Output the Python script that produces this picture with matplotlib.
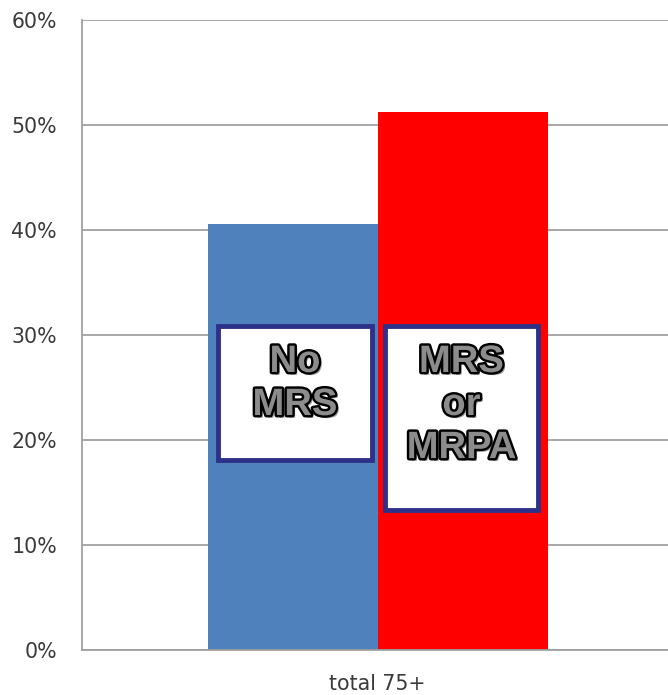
import matplotlib
matplotlib.use("Agg")
import matplotlib.pyplot as plt
import matplotlib.patheffects as pe
from matplotlib.patches import Rectangle
from matplotlib.ticker import FuncFormatter

# Share of people aged 75+ (percent)
category = "total 75+"
series_names = [["No", "MRS"], ["MRS", "or", "MRPA"]]
values = [40.6, 51.2]
colors = ["#4F81BD", "#FF0000"]
yticks = [0, 10, 20, 30, 40, 50, 60]

fig = plt.figure(figsize=(6.68, 6.95), dpi=100)
ax = fig.add_axes([82 / 668, 45 / 695, 586 / 668, 630 / 695])

bar_w = 1.0
offsets = [-0.5, 0.5]
for off, v, c in zip(offsets, values, colors):
    ax.bar(off + 0.006, v, width=bar_w, color=c, align="center", zorder=2)

ax.set_xlim(-1.735, 1.712)
ax.set_ylim(0, 60)
ax.set_yticks(yticks)
ax.yaxis.set_major_formatter(FuncFormatter(lambda v, p: f"{v:.0f}%"))
ax.set_xticks([0])
ax.set_xticklabels([category])
ax.tick_params(axis="both", length=0, labelsize=14.8, colors="#3A3A3A")
ax.tick_params(axis="y", pad=18)
ax.tick_params(axis="x", pad=17)
for lab in ax.get_xticklabels() + ax.get_yticklabels():
    lab.set_fontfamily("DejaVu Sans")

ax.grid(axis="y", color="#A0A0A0", linewidth=1.3, zorder=0)
ax.set_axisbelow(True)
for s in ["top", "right"]:
    ax.spines[s].set_visible(False)
for s in ["left", "bottom"]:
    ax.spines[s].set_color("#A0A0A0")
    ax.spines[s].set_linewidth(1.3)

# Label boxes on top of the bars
boxes = [(-0.935, 18.1, 0.906, 12.76), (0.047, 13.3, 0.9, 17.56)]
text_fx = [
    pe.SimplePatchShadow(offset=(2, -2), shadow_rgbFace="#000000", alpha=0.35),
    pe.Stroke(linewidth=3.5, foreground="black"),
    pe.Normal(),
]
first_line_drop = 3.43   # data units from box top to first line centre
line_step = 4.1          # data units between line centres
for (x0, y0, w, h), lines in zip(boxes, series_names):
    ax.add_patch(Rectangle((x0, y0), w, h, facecolor="white", edgecolor="#2E3189",
                           linewidth=3.5, zorder=3))
    for i, line in enumerate(lines):
        ax.text(x0 + w / 2, y0 + h - first_line_drop - i * line_step, line,
                ha="center", va="center", fontsize=27.5, fontweight="bold",
                family="Liberation Sans", color="#8C8C8C", zorder=4,
                path_effects=text_fx)

fig.savefig("out.png", dpi=100)
